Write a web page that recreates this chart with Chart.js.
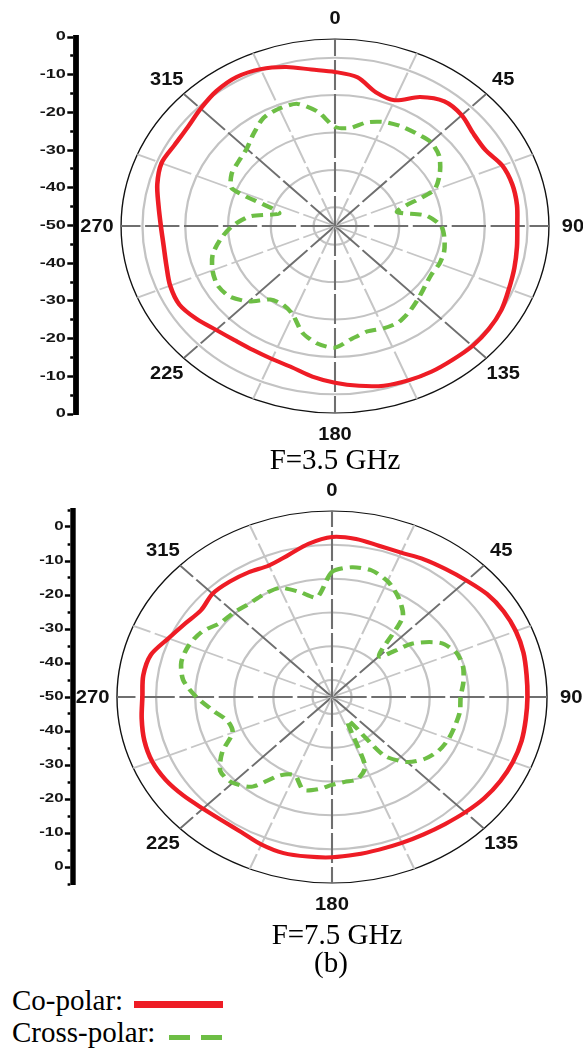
<!DOCTYPE html>
<html><head><meta charset="utf-8">
<script src="https://cdn.jsdelivr.net/npm/chart.js@4/dist/chart.umd.min.js"></script>
<style>
html,body{margin:0;padding:0;background:#fff;}
#wrap{position:relative;width:583px;height:1051px;overflow:hidden;background:#fff;}
canvas{position:absolute;}
.t{position:absolute;font-family:"Liberation Serif","Times New Roman",serif;font-size:29px;line-height:29px;color:#000;white-space:nowrap;}
.c{text-align:center;width:300px;}
.sw{position:absolute;}
</style></head><body>
<div id="wrap">
  <canvas id="polarTop" width="583" height="450" style="left:0;top:0;width:583px;height:450px"></canvas>
  <canvas id="axisTop" width="60" height="450" style="left:26px;top:0;width:60px;height:450px"></canvas>
  <canvas id="polarBot" width="583" height="450" style="left:0;top:470px;width:583px;height:450px"></canvas>
  <canvas id="axisBot" width="60" height="450" style="left:23px;top:470px;width:60px;height:450px"></canvas>
  <div class="t c" style="left:185px;top:445px">F=3.5 GHz</div>
  <div class="t c" style="left:187px;top:920px">F=7.5 GHz</div>
  <div class="t c" style="left:181px;top:948px">(b)</div>
  <div class="t" style="left:12px;top:986px">Co-polar:</div>
  <div class="t" style="left:12px;top:1018px">Cross-polar:</div>
  <div class="sw" style="left:134px;top:1001px;width:89px;height:7px;background:#ee1c25"></div>
  <div class="sw" style="left:169px;top:1035px;width:21px;height:5px;background:#6dbe45"></div>
  <div class="sw" style="left:201px;top:1035px;width:21px;height:5px;background:#6dbe45"></div>
</div>
<script>
// ---- data ----
const ANGLES = ['0','7.5','15','22.5','30','37.5','45','52.5','60','67.5','75','82.5',
  '90','97.5','105','112.5','120','127.5','135','142.5','150','157.5','165','172.5',
  '180','187.5','195','202.5','210','217.5','225','232.5','240','247.5','255','262.5',
  '270','277.5','285','292.5','300','307.5','315','322.5','330','337.5','345','352.5'];
const ANGLE_TICK_LABELS = ['0','45','90','135','180','225','270','315'];

const TOP_CO = [-8.8,-9.9,-13.0,-13.6,-10.2,-8.0,-8.1,-9.3,-9.4,-7.7,-7.1,-7.1,
  -7.4,-7.1,-6.6,-6.0,-5.1,-4.7,-4.6,-4.9,-5.0,-5.3,-5.8,-6.9,
  -8.1,-9.4,-10.9,-11.5,-11.7,-11.5,-10.7,-9.2,-8.0,-8.3,-9.2,-9.6,
  -9.3,-8.4,-7.0,-6.1,-6.7,-6.6,-5.6,-4.5,-4.0,-4.6,-6.0,-7.8];
const TOP_CROSS = [-23.5,-23.6,-21.3,-19.9,-19.2,-18.8,-18.3,-19.3,-21.7,-25.0,-35.0,-28.5,
  -25.2,-24.2,-23.6,-23.6,-24.0,-23.5,-22.5,-21.3,-20.3,-20.4,-20.8,-19.6,
  -17.5,-18.3,-20.5,-24.3,-25.7,-25.2,-21.5,-19.0,-18.3,-19.0,-20.4,-23.0,
  -26.0,-30.0,-36.5,-24.0,-22.1,-21.6,-20.8,-18.8,-16.6,-16.0,-16.2,-19.2];
const BOT_CO = [-2.7,-2.9,-3.7,-3.8,-3.0,-2.3,-1.3,0.0,0.7,0.9,0.7,0.2,
  0.0,0.0,0.2,0.1,-0.3,-0.9,-1.8,-2.6,-3.1,-3.3,-3.3,-3.0,
  -2.6,-2.4,-2.2,-2.8,-3.8,-3.9,-3.3,-2.1,-0.9,-0.2,-0.3,-0.9,
  -1.5,-1.3,-2.0,-4.7,-6.6,-7.8,-6.8,-7.0,-7.4,-7.9,-6.6,-4.3];
const BOT_CROSS = [-13.0,-11.3,-11.2,-12.9,-16.0,-20.3,-33.0,-24.0,-18.0,-15.6,-15.3,-16.1,
  -17.1,-17.0,-17.4,-17.7,-18.4,-20.0,-22.8,-28.2,-42.0,-27.8,-24.8,-24.7,
  -24.0,-22.5,-21.6,-25.0,-23.2,-16.6,-14.1,-14.0,-17.6,-22.5,-22.4,-19.3,
  -15.3,-11.6,-10.1,-10.3,-11.5,-14.0,-14.6,-15.2,-15.0,-15.1,-17.8,-20.3];

const RINGS_TOP = [-50,-45,-35,-25,-15,-5,0];
const RINGS_BOT = [-50,-45,-35,-25,-15,-5,5];

const RED = '#ee1c25';
const GREEN = '#6dbe45';

// ---- plugins ----
const stretchPlugin = {
  id: 'stretch',
  beforeDraw(chart, args, opts) {
    const ctx = chart.ctx;
    const cx = opts.anchor === 'r' ? chart.scales.r.xCenter : chart.scales.y.right;
    ctx.save();
    ctx.translate(cx, 0);
    ctx.scale(opts.sx, 1);
    ctx.translate(-cx, 0);
  },
  afterDraw(chart) { chart.ctx.restore(); }
};

const angleLabelPlugin = {
  id: 'angleLabels',
  afterDatasetsDraw(chart, args, opts) {
    const s = chart.scales.r, ctx = chart.ctx;
    ctx.save();
    ctx.font = 'bold 17.5px "Liberation Sans", Arial, sans-serif';
    ctx.fillStyle = '#111';
    ctx.textAlign = 'center';
    ctx.textBaseline = 'middle';
    chart.data.labels.forEach((lab, i) => {
      if (!ANGLE_TICK_LABELS.includes(lab)) return;
      const p = s.getPointPosition(i, s.drawingArea + opts.offset);
      ctx.fillText(lab, p.x, p.y + 1);
    });
    ctx.restore();
  }
};

function makePolar(id, co, cross, rings, rmax, pad, sx) {
  return new Chart(document.getElementById(id), {
    type: 'radar',
    data: {
      labels: ANGLES,
      datasets: [
        {label: 'Co-polar', data: co, borderColor: RED, borderWidth: 4, pointRadius: 0,
         fill: false, tension: 0.3, borderJoinStyle: 'round'},
        {label: 'Cross-polar', data: cross, borderColor: GREEN, borderWidth: 4, pointRadius: 0,
         fill: false, tension: 0.25, borderDash: [10, 6], borderJoinStyle: 'round'}
      ]
    },
    options: {
      responsive: false, animation: false, devicePixelRatio: 1,
      layout: {padding: pad},
      plugins: {legend: {display: false}, tooltip: {enabled: false},
                stretch: {sx: sx, anchor: 'r'}, angleLabels: {offset: 21}},
      scales: {
        r: {
          min: -50, max: rmax, startAngle: 0,
          ticks: {display: false, stepSize: 5},
          afterBuildTicks: (s) => { s.ticks = rings.map(v => ({value: v})); },
          pointLabels: {display: false},
          grid: {
            circular: true,
            color: (c) => (c.tick && c.tick.value === rmax) ? '#111' : '#c3c3c3',
            lineWidth: (c) => (c.tick && c.tick.value === rmax) ? 1.2 : 2
          },
          angleLines: {
            display: true,
            color: (c) => {
              const a = parseFloat(ANGLES[c.index]);
              if (a % 45 === 0) return '#6f6f6f';
              if (a % 22.5 === 0) return '#c6c6c6';
              return 'rgba(0,0,0,0)';
            },
            lineWidth: (c) => (parseFloat(ANGLES[c.index]) % 22.5 === 0) ? 1.8 : 0,
            borderDash: [30, 4]
          }
        }
      }
    },
    plugins: [stretchPlugin, angleLabelPlugin]
  });
}

function makeAxis(id, min, max, pad, sx) {
  const isMinor = (c) => c.tick && (c.tick.value % 10 !== 0);
  return new Chart(document.getElementById(id), {
    type: 'scatter',
    data: {datasets: []},
    options: {
      responsive: false, animation: false, devicePixelRatio: 1,
      layout: {padding: pad},
      plugins: {legend: {display: false}, tooltip: {enabled: false}, stretch: {sx: sx, anchor: 'y'}},
      scales: {
        x: {display: false, min: 0, max: 1},
        y: {
          min: min, max: max, position: 'left',
          afterFit: (s) => { s.width = 50; },
          border: {display: true, color: '#000', width: 4},
          grid: {display: true, drawOnChartArea: false, drawTicks: true, tickLength: 6,
                 tickColor: '#000', tickWidth: 2.5,
                 tickBorderDash: (c) => isMinor(c) ? [2, 100] : [],
                 tickBorderDashOffset: (c) => isMinor(c) ? -2 : 0},
          ticks: {
            stepSize: 5, autoSkip: false, padding: 1, color: '#151515',
            font: {family: '"Liberation Sans", Arial, sans-serif', size: 12.5, weight: 'bold'},
            callback: (v) => (v % 10 === 0 ? String(Math.abs(v) - 50) : '')
          }
        }
      }
    },
    plugins: [stretchPlugin]
  });
}

makePolar('polarTop', TOP_CO, TOP_CROSS, RINGS_TOP, 0,
  {left: 148, top: 39, right: 61, bottom: 37}, 1.144);
makePolar('polarBot', BOT_CO, BOT_CROSS, RINGS_BOT, 5,
  {left: 146, top: 41, right: 65, bottom: 37}, 1.156);
makeAxis('axisTop', -50, 50, {left: 0, top: 37, right: 0, bottom: 36}, 1.45);
makeAxis('axisBot', -55, 55, {left: 0, top: 40, right: 0, bottom: 36}, 1.35);
</script>
</body></html>
